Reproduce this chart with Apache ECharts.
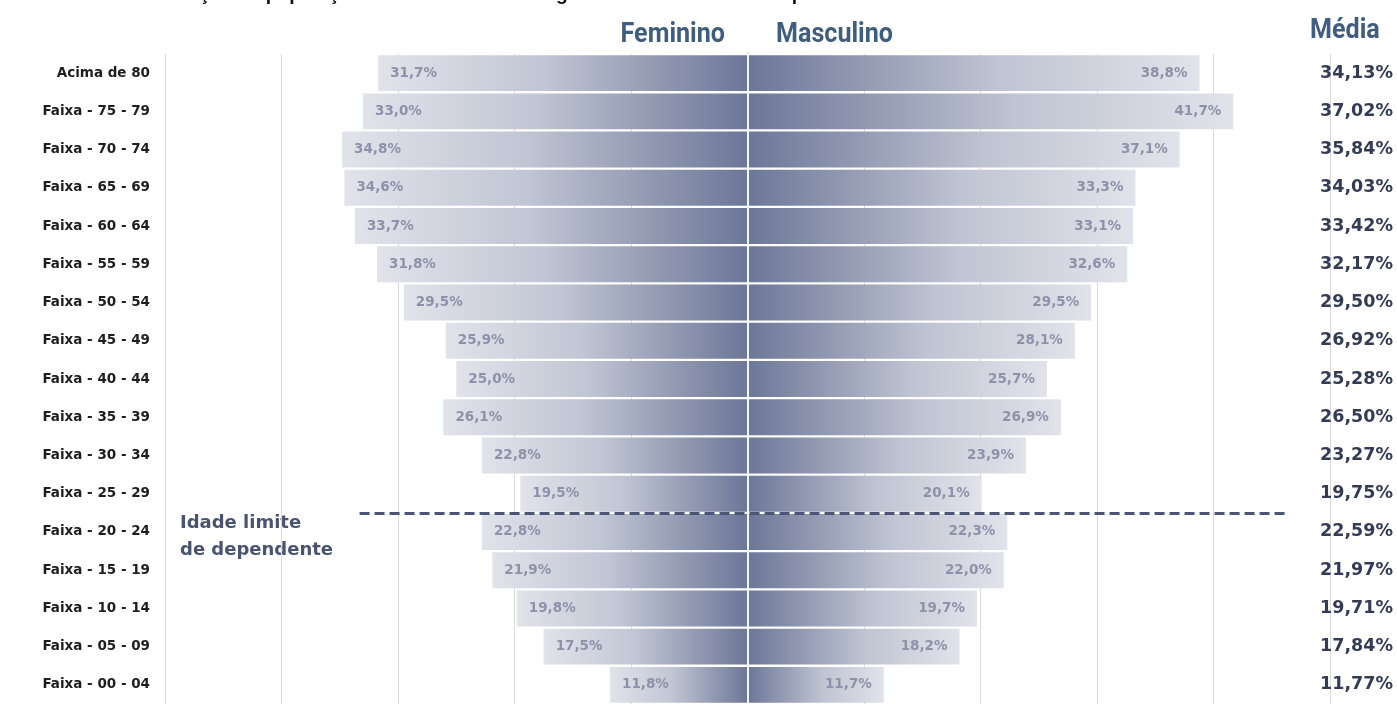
<!DOCTYPE html>
<html>
<head>
<meta charset="utf-8">
<script src="https://cdn.jsdelivr.net/npm/echarts@6/dist/echarts.min.js"></script>
<style>
html,body{margin:0;padding:0;background:#fff;}
#chart{width:1397px;height:704px;}
</style>
</head>
<body>
<div id="chart"></div>
<script>
const categories = ['Acima de 80','Faixa - 75 - 79','Faixa - 70 - 74','Faixa - 65 - 69','Faixa - 60 - 64','Faixa - 55 - 59','Faixa - 50 - 54','Faixa - 45 - 49','Faixa - 40 - 44','Faixa - 35 - 39','Faixa - 30 - 34','Faixa - 25 - 29','Faixa - 20 - 24','Faixa - 15 - 19','Faixa - 10 - 14','Faixa - 05 - 09','Faixa - 00 - 04'];
const feminino = [31.7,33.0,34.8,34.6,33.7,31.8,29.5,25.9,25.0,26.1,22.8,19.5,22.8,21.9,19.8,17.5,11.8];
const masculino = [38.8,41.7,37.1,33.3,33.1,32.6,29.5,28.1,25.7,26.9,23.9,20.1,22.3,22.0,19.7,18.2,11.7];
const media = ['34,13%','37,02%','35,84%','34,03%','33,42%','32,17%','29,50%','26,92%','25,28%','26,50%','23,27%','19,75%','22,59%','21,97%','19,71%','17,84%','11,77%'];
const headerLabels = ['Feminino','Masculino','Média'];
const limiteLabel = 'Idade limite\nde dependente';
const limiteBoundary = 12; // boundary between "Faixa - 25 - 29" and "Faixa - 20 - 24"
const titleText = 'Distribuição da população com cobertura de segundo faixa etária e sexo por ano';

const fmt = v => Math.abs(v).toFixed(1).replace('.', ',') + '%';
const chart = echarts.init(document.getElementById('chart'));
const headFont = "'Liberation Sans Narrow','Roboto','Liberation Sans',sans-serif";
const headColor = '#3f5d7e';

function header(text, x, y, align) {
  return {type: 'text', x: x, y: y, scaleX: 0.93, scaleY: 1,
    style: {text: text, x: 0, y: 0, textAlign: align, textVerticalAlign: 'middle',
      font: "bold 27px " + headFont, fill: headColor}};
}

chart.setOption({
  animation: false,
  backgroundColor: '#ffffff',
  grid: {left: 165, right: 67, top: 54, height: 656},
  xAxis: {
    type: 'value', min: -50, max: 50, interval: 10,
    axisLabel: {show: false}, axisTick: {show: false}, axisLine: {show: false},
    splitLine: {show: true, lineStyle: {color: '#dadada', width: 1}}
  },
  yAxis: [{
    type: 'category', data: categories, inverse: true,
    axisTick: {show: false},
    axisLine: {show: true, lineStyle: {color: '#c4c4c4', width: 2}},
    axisLabel: {margin: 15, color: '#1e1e1e', fontFamily: 'DejaVu Sans', fontWeight: 'bold', fontSize: 13.5}
  }, {
    type: 'category', data: media, inverse: true, position: 'right',
    axisTick: {show: false}, axisLine: {show: false},
    axisLabel: {margin: 63, align: 'right', color: '#343b55', fontFamily: 'DejaVu Sans', fontWeight: 'bold', fontSize: 17.5}
  }, {
    type: 'value', min: 0, max: categories.length, inverse: true, show: false
  }],
  series: [{
    name: headerLabels[0], type: 'bar', stack: 'p', barCategoryGap: '6%',
    data: feminino.map(v => -v),
    itemStyle: {color: new echarts.graphic.LinearGradient(0,0,1,0,[
      {offset: 0, color: '#e1e3ea'}, {offset: 0.45, color: '#c1c6d4'}, {offset: 1, color: '#6c7697'}])},
    label: {show: true, position: 'insideLeft', distance: 12, formatter: p => fmt(p.value),
      color: '#8d92aa', fontFamily: 'DejaVu Sans', fontWeight: 'bold', fontSize: 13.5}
  }, {
    name: headerLabels[1], type: 'bar', stack: 'p', barCategoryGap: '6%',
    data: masculino,
    itemStyle: {color: new echarts.graphic.LinearGradient(0,0,1,0,[
      {offset: 0, color: '#6c7697'}, {offset: 0.55, color: '#bfc4d2'}, {offset: 1, color: '#e1e3ea'}])},
    label: {show: true, position: 'insideRight', distance: 12, formatter: p => fmt(p.value),
      color: '#8d92aa', fontFamily: 'DejaVu Sans', fontWeight: 'bold', fontSize: 13.5},
    markLine: {
      silent: true, symbol: 'none', label: {show: false},
      lineStyle: {color: '#f4f5f8', width: 2, type: 'solid'},
      data: [{xAxis: 0}]
    }
  }, {
    name: 'limite', type: 'line', yAxisIndex: 2, data: [],
    markLine: {
      silent: true, symbol: 'none', label: {show: false}, z: 5,
      lineStyle: {color: '#4b5676', width: 3, type: [10, 5]},
      data: [[{xAxis: -33.3, yAxis: limiteBoundary}, {xAxis: 46.5, yAxis: limiteBoundary}]]
    }
  }],
  graphic: [
    {type: 'text', left: 121, top: -15, style: {text: titleText, font: "bold 19.3px 'Liberation Sans'", fill: '#111'}},
    header(headerLabels[0], 725, 35, 'right'),
    header(headerLabels[1], 776, 35, 'left'),
    header(headerLabels[2], 1310, 31, 'left'),
    {type: 'text', left: 180, top: 510, style: {text: limiteLabel, font: "bold 18px 'DejaVu Sans'", fill: '#4a5370', lineHeight: 27}}
  ]
});
</script>
</body>
</html>
